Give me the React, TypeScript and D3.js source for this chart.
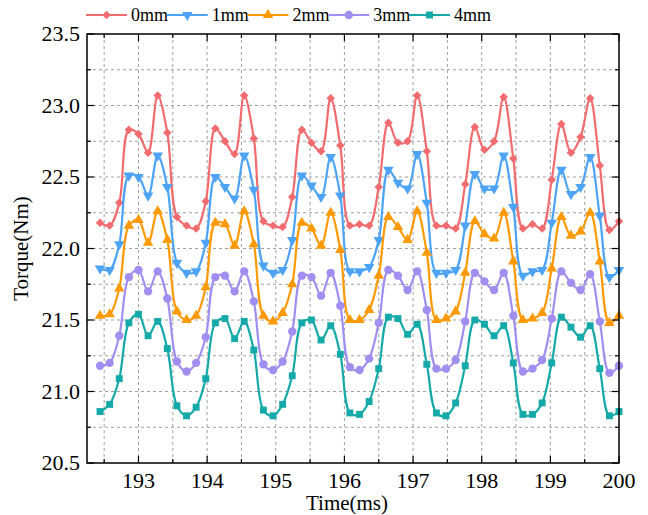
import React, { useRef, useEffect } from 'react';
import * as d3 from 'd3';

// time samples (ms)
const times = [
  192.44, 192.58, 192.72, 192.86, 193.0, 193.14, 193.28, 193.42, 193.56, 193.7,
  193.84, 193.98, 194.12, 194.26, 194.4, 194.54, 194.68, 194.82, 194.96, 195.1,
  195.24, 195.38, 195.52, 195.66, 195.8, 195.94, 196.08, 196.22, 196.36, 196.5,
  196.64, 196.78, 196.92, 197.06, 197.2, 197.34, 197.48, 197.62, 197.76, 197.9,
  198.04, 198.18, 198.32, 198.46, 198.6, 198.74, 198.88, 199.02, 199.16, 199.3,
  199.44, 199.58, 199.72, 199.86, 200.0,
];

const torque0mm = [
  22.18, 22.16, 22.32, 22.83, 22.80, 22.67, 23.07, 22.81, 22.22, 22.16,
  22.14, 22.33, 22.84, 22.75, 22.66, 23.07, 22.77, 22.19, 22.16, 22.15,
  22.36, 22.83, 22.74, 22.68, 23.05, 22.72, 22.16, 22.17, 22.16, 22.43,
  22.88, 22.74, 22.75, 23.07, 22.68, 22.16, 22.16, 22.14, 22.45, 22.85,
  22.69, 22.75, 23.06, 22.63, 22.14, 22.17, 22.14, 22.48, 22.87, 22.67,
  22.78, 23.05, 22.58, 22.13, 22.19,
];

const torque1mm = [
  21.86, 21.85, 22.03, 22.51, 22.50, 22.37, 22.65, 22.43, 21.90, 21.83,
  21.84, 22.04, 22.50, 22.43, 22.35, 22.65, 22.41, 21.88, 21.83, 21.85,
  22.06, 22.51, 22.44, 22.36, 22.64, 22.37, 21.84, 21.84, 21.87, 22.06,
  22.55, 22.46, 22.42, 22.66, 22.32, 21.83, 21.83, 21.85, 22.16, 22.52,
  22.42, 22.42, 22.65, 22.29, 21.81, 21.84, 21.85, 22.18, 22.55, 22.38,
  22.43, 22.64, 22.23, 21.80, 21.85,
];

const torque2mm = [
  21.53, 21.54, 21.72, 22.16, 22.20, 22.04, 22.26, 22.06, 21.56, 21.50,
  21.53, 21.73, 22.18, 22.17, 22.02, 22.26, 22.03, 21.53, 21.49, 21.55,
  21.75, 22.18, 22.14, 22.02, 22.25, 21.99, 21.50, 21.50, 21.57, 21.81,
  22.22, 22.15, 22.06, 22.26, 21.97, 21.50, 21.51, 21.56, 21.83, 22.19,
  22.10, 22.07, 22.25, 21.91, 21.50, 21.51, 21.55, 21.86, 22.22, 22.09,
  22.12, 22.25, 21.91, 21.48, 21.53,
];

const torque3mm = [
  21.18, 21.20, 21.39, 21.80, 21.85, 21.70, 21.84, 21.65, 21.21, 21.14,
  21.20, 21.38, 21.80, 21.81, 21.70, 21.84, 21.63, 21.19, 21.15, 21.21,
  21.42, 21.81, 21.80, 21.67, 21.83, 21.60, 21.17, 21.15, 21.23, 21.48,
  21.85, 21.81, 21.71, 21.84, 21.57, 21.16, 21.16, 21.22, 21.49, 21.83,
  21.77, 21.71, 21.83, 21.53, 21.14, 21.16, 21.22, 21.51, 21.84, 21.76,
  21.71, 21.82, 21.49, 21.13, 21.18,
];

const torque4mm = [
  20.86, 20.91, 21.09, 21.48, 21.54, 21.39, 21.49, 21.30, 20.90, 20.83,
  20.89, 21.09, 21.48, 21.51, 21.37, 21.49, 21.29, 20.87, 20.83, 20.91,
  21.11, 21.48, 21.50, 21.36, 21.46, 21.26, 20.85, 20.84, 20.93, 21.16,
  21.52, 21.51, 21.40, 21.47, 21.19, 20.85, 20.83, 20.92, 21.18, 21.50,
  21.47, 21.39, 21.46, 21.20, 20.84, 20.84, 20.92, 21.20, 21.52, 21.45,
  21.38, 21.46, 21.16, 20.83, 20.86,
];

const seriesNames = ['0mm', '1mm', '2mm', '3mm', '4mm'];
const seriesValues = [torque0mm, torque1mm, torque2mm, torque3mm, torque4mm];
const seriesColors = ['#F26B6E', '#4DA3F5', '#FF9A05', '#A08EF0', '#16A9A9'];

const xTicks = [193, 194, 195, 196, 197, 198, 199, 200];
const xMinorTicks = [192.5, 193.5, 194.5, 195.5, 196.5, 197.5, 198.5, 199.5];
const yTicks = [20.5, 21.0, 21.5, 22.0, 22.5, 23.0, 23.5];
const yMinorTicks = [20.75, 21.25, 21.75, 22.25, 22.75, 23.25];

const FONT = '"Liberation Serif", "Times New Roman", Times, serif';

// marker shapes per series: diamond, down triangle, up triangle, circle, square
const markers = [
  { type: d3.symbolSquare, size: 36, rotate: 45 },
  { type: d3.symbolTriangle, size: 48, rotate: 180 },
  { type: d3.symbolTriangle, size: 48, rotate: 0 },
  { type: d3.symbolCircle, size: 55, rotate: 0 },
  { type: d3.symbolSquare, size: 48, rotate: 0 },
];

function App() {
  const svgRef = useRef<SVGSVGElement>(null);

  useEffect(() => {
    const svg = d3.select(svgRef.current);
    svg.selectAll('*').remove();

    const left = 87, right = 619, top = 34, bottom = 463;

    const x = d3.scaleLinear().domain([192.25, 200]).range([left, right]);
    const y = d3.scaleLinear().domain([20.5, 23.5]).range([bottom, top]);

    // grid
    const grid = svg.append('g')
      .attr('stroke', '#a0a0a0')
      .attr('stroke-width', 1)
      .attr('stroke-dasharray', '3,3');
    [...xTicks.filter(t => t < 200), ...xMinorTicks].forEach(t => {
      grid.append('line')
        .attr('x1', x(t)).attr('x2', x(t))
        .attr('y1', top).attr('y2', bottom);
    });
    [...yTicks.filter(t => t > 20.5 && t < 23.5), ...yMinorTicks].forEach(t => {
      grid.append('line')
        .attr('x1', left).attr('x2', right)
        .attr('y1', y(t)).attr('y2', y(t));
    });

    // series lines
    seriesValues.forEach((vals, si) => {
      const pts = vals.map((v, i) => [times[i], v] as [number, number]);
      const line = d3.line<[number, number]>()
        .x(d => x(d[0]))
        .y(d => y(d[1]))
        .curve(d3.curveCatmullRom.alpha(0.5));
      svg.append('path')
        .datum(pts)
        .attr('fill', 'none')
        .attr('stroke', seriesColors[si])
        .attr('stroke-width', 2.2)
        .attr('d', line);

      const m = markers[si];
      const sym = d3.symbol().type(m.type).size(m.size);
      svg.append('g')
        .selectAll('path')
        .data(pts)
        .enter().append('path')
        .attr('d', sym)
        .attr('fill', seriesColors[si])
        .attr('transform', d => `translate(${x(d[0])},${y(d[1])}) rotate(${m.rotate})`);
    });

    // frame
    svg.append('rect')
      .attr('x', left).attr('y', top)
      .attr('width', right - left).attr('height', bottom - top)
      .attr('fill', 'none')
      .attr('stroke', '#000')
      .attr('stroke-width', 1.5);

    // ticks (inward, mirrored)
    const ticks = svg.append('g').attr('stroke', '#000').attr('stroke-width', 1.2);
    xTicks.forEach(t => {
      ticks.append('line').attr('x1', x(t)).attr('x2', x(t)).attr('y1', bottom).attr('y2', bottom - 7);
      ticks.append('line').attr('x1', x(t)).attr('x2', x(t)).attr('y1', top).attr('y2', top + 7);
    });
    xMinorTicks.forEach(t => {
      ticks.append('line').attr('x1', x(t)).attr('x2', x(t)).attr('y1', bottom).attr('y2', bottom - 4);
      ticks.append('line').attr('x1', x(t)).attr('x2', x(t)).attr('y1', top).attr('y2', top + 4);
    });
    yTicks.forEach(t => {
      ticks.append('line').attr('x1', left).attr('x2', left + 7).attr('y1', y(t)).attr('y2', y(t));
      ticks.append('line').attr('x1', right).attr('x2', right - 7).attr('y1', y(t)).attr('y2', y(t));
    });
    yMinorTicks.forEach(t => {
      ticks.append('line').attr('x1', left).attr('x2', left + 4).attr('y1', y(t)).attr('y2', y(t));
      ticks.append('line').attr('x1', right).attr('x2', right - 4).attr('y1', y(t)).attr('y2', y(t));
    });

    // tick labels
    svg.append('g')
      .selectAll('text')
      .data(xTicks)
      .enter().append('text')
      .attr('x', d => x(d))
      .attr('y', 488)
      .attr('text-anchor', 'middle')
      .style('font-family', FONT)
      .style('font-size', '22px')
      .text(d => d3.format('d')(d));

    svg.append('g')
      .selectAll('text')
      .data(yTicks)
      .enter().append('text')
      .attr('x', left - 7)
      .attr('y', d => y(d) + 7)
      .attr('text-anchor', 'end')
      .style('font-family', FONT)
      .style('font-size', '22px')
      .text(d => d3.format('.1f')(d));

    // axis titles
    svg.append('text')
      .attr('x', 347)
      .attr('y', 510)
      .attr('text-anchor', 'middle')
      .style('font-family', FONT)
      .style('font-size', '21px')
      .text('Time(ms)');

    svg.append('text')
      .attr('transform', `translate(28,${(top + bottom) / 2}) rotate(-90)`)
      .attr('text-anchor', 'middle')
      .style('font-family', FONT)
      .style('font-size', '21px')
      .text('Torque(Nm)');

    // legend
    const legend = svg.append('g');
    seriesNames.forEach((name, i) => {
      const lx = 86 + i * 80.75;
      const ly = 15;
      legend.append('line')
        .attr('x1', lx).attr('x2', lx + 41)
        .attr('y1', ly).attr('y2', ly)
        .attr('stroke', seriesColors[i])
        .attr('stroke-width', 2);
      const m = markers[i];
      legend.append('path')
        .attr('d', d3.symbol().type(m.type).size(m.size)())
        .attr('fill', seriesColors[i])
        .attr('transform', `translate(${lx + 20.5},${ly}) rotate(${m.rotate})`);
      legend.append('text')
        .attr('x', lx + 45)
        .attr('y', ly + 6)
        .style('font-family', FONT)
        .style('font-size', '18px')
        .text(name);
    });
  }, []);

  return (
    <svg
      ref={svgRef}
      width={648}
      height={515}
      style={{ position: 'absolute', left: 0, top: 0, background: '#fff' }}
    />
  );
}

export default App;
